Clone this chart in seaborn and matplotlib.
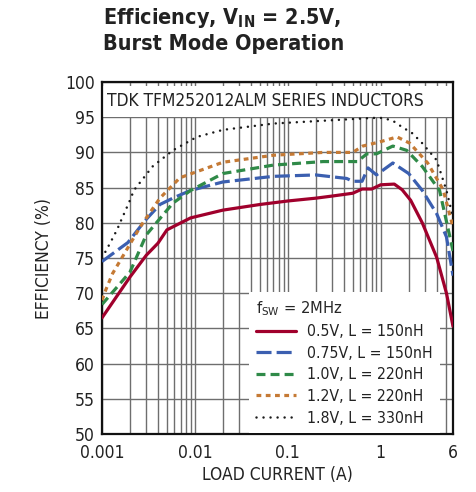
import matplotlib
matplotlib.use("Agg")
import matplotlib.pyplot as plt
import matplotlib.ticker as mticker
from matplotlib.patches import Rectangle
import seaborn as sns
import pandas as pd

# load current (A) and efficiency (%)
x_05 = [0.001, 0.002, 0.003, 0.004, 0.005, 0.009, 0.02, 0.05, 0.1, 0.2, 0.3, 0.5, 0.63, 0.8, 1.0, 1.4, 1.7, 2.1, 2.8, 4.0, 5.1, 6.0]
y_05 = [66.5, 72.3, 75.4, 77.1, 79.0, 80.7, 81.8, 82.6, 83.1, 83.5, 83.8, 84.2, 84.8, 84.8, 85.4, 85.5, 84.7, 83.2, 80.0, 75.1, 70.0, 65.3]

x_075 = [0.001, 0.0019, 0.0029, 0.0042, 0.006, 0.009, 0.02, 0.07, 0.2, 0.43, 0.5, 0.63, 0.73, 0.9, 1.35, 2.0, 2.8, 4.0, 5.1, 6.0]
y_075 = [74.5, 77.2, 80.3, 82.6, 83.6, 84.6, 85.8, 86.6, 86.8, 86.3, 85.9, 85.9, 87.8, 86.8, 88.5, 87.0, 84.6, 81.3, 78.0, 72.5]

x_10 = [0.001, 0.002, 0.003, 0.0058, 0.009, 0.02, 0.07, 0.24, 0.56, 0.71, 0.9, 1.35, 1.9, 2.8, 4.3, 6.0]
y_10 = [68.4, 73.0, 78.3, 82.8, 84.6, 87.0, 88.2, 88.7, 88.7, 89.8, 89.8, 90.9, 90.3, 88.0, 84.6, 76.0]

x_12 = [0.001, 0.0011, 0.0013, 0.0017, 0.0026, 0.0042, 0.0069, 0.02, 0.07, 0.24, 0.5, 0.64, 0.98, 1.5, 2.06, 3.2, 4.7, 6.0]
y_12 = [69.0, 70.5, 72.8, 75.4, 79.5, 83.5, 86.4, 88.6, 89.6, 90.0, 90.0, 90.9, 91.5, 92.2, 91.3, 88.5, 84.7, 79.4]

x_18 = [0.001, 0.00122, 0.00145, 0.0016, 0.002, 0.0022, 0.0035, 0.0058, 0.0105, 0.02, 0.07, 0.24, 0.82, 1.05, 1.35, 1.7, 2.2, 2.8, 4.0, 5.1, 6.0]
y_18 = [75.0, 77.1, 79.0, 80.3, 83.2, 84.6, 88.0, 90.3, 92.2, 93.2, 94.1, 94.5, 94.9, 94.9, 94.5, 93.6, 92.7, 91.3, 88.9, 84.6, 80.8]

labels = ["0.5V, L = 150nH", "0.75V, L = 150nH", "1.0V, L = 220nH", "1.2V, L = 220nH", "1.8V, L = 330nH"]
colors = ["#a0002c", "#3b5fb0", "#2f8a48", "#c57a35", "#1a1a1a"]
styles = ["-", (0, (4.7, 1.6)), (0, (2.8, 1.6)), (0, (1.5, 1.4)), (0, (0.01, 2.8))]
widths = [2.3, 2.3, 2.3, 2.3, 1.8]

sns.set_theme(style="white")
plt.rcParams["font.family"] = ["DejaVu Sans"]
plt.rcParams["font.stretch"] = "condensed"
plt.rcParams["mathtext.default"] = "regular"

fig = plt.figure(figsize=(4.76, 4.92), dpi=100)
ax = fig.add_axes([0.2143, 0.1179, 0.7374, 0.7154])

series = [(x_05, y_05), (x_075, y_075), (x_10, y_10), (x_12, y_12), (x_18, y_18)]
for (xs, ys), lab, c, ls, lw in zip(series, labels, colors, styles, widths):
    df = pd.DataFrame({"x": xs, "y": ys})
    sns.lineplot(data=df, x="x", y="y", ax=ax, color=c, lw=lw, label=lab, sort=False, zorder=3)
    ax.lines[-1].set_linestyle(ls)
    ax.lines[-1].set_dash_capstyle("round" if lw < 2 else "butt")

ax.set_xscale("log")
ax.set_xlim(0.001, 6)
ax.set_ylim(50, 100)
ax.set_yticks(range(50, 101, 5))
ax.set_xticks([0.001, 0.01, 0.1, 1, 6])
ax.set_xticklabels(["0.001", "0.01", "0.1", "1", "6"])
ax.xaxis.set_minor_locator(mticker.LogLocator(base=10, subs=range(2, 10), numticks=20))
ax.xaxis.set_minor_formatter(mticker.NullFormatter())
ax.set_axisbelow(True)
ax.grid(which="both", axis="x", color="#6e6e6e", lw=1.0)
ax.grid(which="major", axis="y", color="#6e6e6e", lw=1.0)
ax.tick_params(which="both", length=0, labelsize=12.5, colors="#222222")
ax.tick_params(axis="x", pad=7)
ax.tick_params(axis="y", pad=5)
for s in ax.spines.values():
    s.set_color("#111111")
    s.set_linewidth(1.6)

# white header band with the inductor note
ax.add_patch(Rectangle((0, 0.9), 1, 0.09, transform=ax.transAxes, facecolor="white",
                       edgecolor="none", zorder=1.5))
ax.text(0.013, 0.945, "TDK TFM252012ALM SERIES INDUCTORS", transform=ax.transAxes,
        fontsize=12.4, va="center", ha="left", color="#222222", zorder=4)

ax.set_xlabel("LOAD CURRENT (A)", fontsize=12.5, color="#222222", labelpad=3)
ax.set_ylabel("EFFICIENCY (%)", fontsize=12.5, color="#222222", labelpad=9)

leg = ax.legend(loc="lower left", bbox_to_anchor=(0.42, 0.004), borderaxespad=0,
                title="f$_{SW}$ = 2MHz", fontsize=11.3, title_fontsize=11.8,
                frameon=True, facecolor="white", edgecolor="none", framealpha=1,
                handlelength=2.5, handletextpad=0.75, labelspacing=0.42,
                borderpad=0.45, fancybox=False)
leg._legend_box.align = "left"
leg.set_zorder(5)
for t in leg.get_texts():
    t.set_color("#222222")

fig.text(0.216, 0.988, "Efficiency, V$_{IN}$ = 2.5V,", fontsize=15.5, fontweight="bold",
         va="top", ha="left", color="#222222")
fig.text(0.216, 0.930, "Burst Mode Operation", fontsize=15.5, fontweight="bold",
         va="top", ha="left", color="#222222")

fig.savefig("out.png", dpi=100)
